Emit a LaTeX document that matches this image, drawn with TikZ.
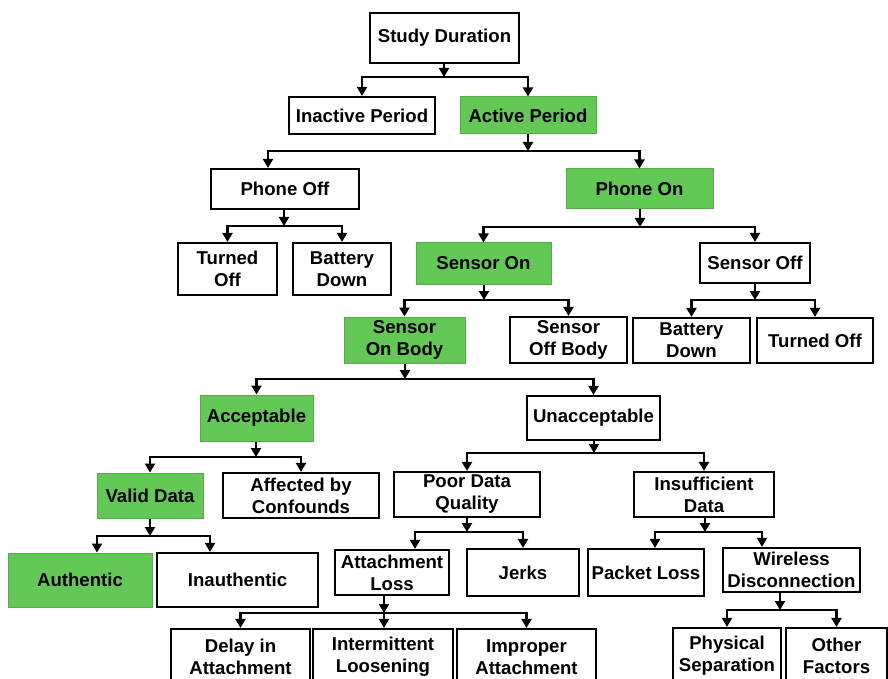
\documentclass[tikz,border=0pt]{standalone}
\usepackage{fontspec}
\setmainfont{Liberation Sans}
\usepackage{tikz}
\usetikzlibrary{arrows.meta,calc}
\definecolor{okgreen}{RGB}{100,200,86}

\begin{document}
\begin{tikzpicture}[x=0.5pt,y=-0.5pt,
    box/.style={rectangle,draw=black,line width=1.1pt,fill=white,align=center,inner sep=1pt,font=\fontsize{9.3}{11}\selectfont\bfseries},
    okbox/.style={box,draw=okgreen!85!black,line width=0.5pt,fill=okgreen},
    link/.style={line width=1.1pt,-{Triangle[length=4.5pt,width=5pt]}}]
    \useasboundingbox (0,0) rectangle (888,679);

    % Top levels
    \node[box,minimum width=74.5pt,minimum height=25pt] (sd) at (444.5,38) {Study Duration};
    \node[box,minimum width=73pt,minimum height=18.5pt] (ip) at (362,115.5) {Inactive Period};
    \node[okbox,minimum width=68pt,minimum height=18.5pt] (ap) at (528,115.5) {Active Period};
    \node[box,minimum width=74pt,minimum height=20pt] (pf) at (285,189) {Phone Off};
    \node[okbox,minimum width=73.5pt,minimum height=20pt] (pn) at (639.5,189) {Phone On};

    % Phone / sensor states
    \node[box,minimum width=49.5pt,minimum height=26pt] (tof) at (227.5,269) {Turned\\Off};
    \node[box,minimum width=49pt,minimum height=26pt] (bdn) at (342,269) {Battery\\Down};
    \node[okbox,minimum width=67.5pt,minimum height=20.5pt] (son) at (483.5,263.5) {Sensor On};
    \node[box,minimum width=55pt,minimum height=20pt] (sof) at (755,263) {Sensor Off};
    \node[okbox,minimum width=60.5pt,minimum height=23pt] (sob) at (404.5,340) {Sensor\\On Body};
    \node[box,minimum width=58.5pt,minimum height=23pt] (sfb) at (568.5,340) {Sensor\\Off Body};
    \node[box,minimum width=58.5pt,minimum height=22.5pt] (sbd) at (691.5,340.5) {Battery\\Down};
    \node[box,minimum width=58pt,minimum height=22.5pt] (sto) at (815,340.5) {Turned Off};

    % Data quality
    \node[okbox,minimum width=56.5pt,minimum height=23pt] (acc) at (256.5,418) {Acceptable};
    \node[box,minimum width=66.5pt,minimum height=22pt] (una) at (593.5,418) {Unacceptable};
    \node[okbox,minimum width=53pt,minimum height=22.5pt] (vd) at (150,495.5) {Valid Data};
    \node[box,minimum width=78pt,minimum height=22.5pt] (abc) at (301,495.5) {Affected by\\Confounds};
    \node[box,minimum width=73pt,minimum height=22.5pt] (pdq) at (467,494.5) {Poor Data\\Quality};
    \node[box,minimum width=70pt,minimum height=22.5pt] (isd) at (704,494.5) {Insufficient\\Data};
    \node[okbox,minimum width=72pt,minimum height=27pt] (aut) at (80,580) {Authentic};
    \node[box,minimum width=80.5pt,minimum height=27pt] (ina) at (237.5,580) {Inauthentic};
    \node[box,minimum width=57pt,minimum height=22.5pt] (atl) at (392,572.5) {Attachment\\Loss};
    \node[box,minimum width=56pt,minimum height=23.5pt] (jrk) at (523,572.5) {Jerks};
    \node[box,minimum width=58pt,minimum height=23.5pt] (pkl) at (646,572.5) {Packet Loss};
    \node[box,minimum width=68.5pt,minimum height=22pt] (wdc) at (791.5,570) {Wireless\\Disconnection};

    % Bottom row
    \node[box,minimum width=69.5pt,minimum height=28pt] (dia) at (240.5,657) {Delay in\\Attachment};
    \node[box,minimum width=70pt,minimum height=28pt] (inl) at (383,657) {Intermittent\\Loosening};
    \node[box,minimum width=69.5pt,minimum height=28pt] (ima) at (526.5,657) {Improper\\Attachment};
    \node[box,minimum width=54pt,minimum height=28pt] (phs) at (727,656) {Physical\\Separation};
    \node[box,minimum width=50.5pt,minimum height=28pt] (oth) at (836.5,656) {Other\\Factors};

    % Junctions
    \coordinate (jsd) at (444,77);
    \coordinate (jap) at (528,151);
    \coordinate (jpf) at (284,226);
    \coordinate (jpn) at (640,227);
    \coordinate (json) at (484,300);
    \coordinate (jsof) at (755,300);
    \coordinate (jsob) at (405,379);
    \coordinate (jacc) at (256,457);
    \coordinate (juna) at (594,453);
    \coordinate (jvd) at (150,536);
    \coordinate (jpdq) at (467,532);
    \coordinate (jisd) at (705,532);
    \coordinate (jatl) at (384,613);
    \coordinate (jwdc) at (780,610);

    % Links
    \draw[link] (sd.south -| jsd) -- (jsd);
    \draw[link] (jsd) -| (ip.north);
    \draw[link] (jsd) -| (ap.north);

    \draw[link] (ap.south -| jap) -- (jap);
    \draw[link] (jap) -| ([xshift=-8.5pt]pf.north);
    \draw[link] (jap) -| (pn.north);

    \draw[link] (pf.south -| jpf) -- (jpf);
    \draw[link] (jpf) -| (tof.north);
    \draw[link] (jpf) -| (bdn.north);

    \draw[link] (pn.south -| jpn) -- (jpn);
    \draw[link] (jpn) -| (son.north);
    \draw[link] (jpn) -| (sof.north);

    \draw[link] (son.south -| json) -- (json);
    \draw[link] (json) -| (sob.north);
    \draw[link] (json) -| (sfb.north);

    \draw[link] (sof.south -| jsof) -- (jsof);
    \draw[link] (jsof) -| (sbd.north);
    \draw[link] (jsof) -| (sto.north);

    \draw[link] (sob.south -| jsob) -- (jsob);
    \draw[link] (jsob) -| (acc.north);
    \draw[link] (jsob) -| (una.north);

    \draw[link] (acc.south -| jacc) -- (jacc);
    \draw[link] (jacc) -| (vd.north);
    \draw[link] (jacc) -| (abc.north);

    \draw[link] (una.south -| juna) -- (juna);
    \draw[link] (juna) -| (pdq.north);
    \draw[link] (juna) -| (isd.north);

    \draw[link] (vd.south -| jvd) -- (jvd);
    \draw[link] (jvd) -| ([xshift=8.5pt]aut.north);
    \draw[link] (jvd) -| ([xshift=-13.75pt]ina.north);

    \draw[link] (pdq.south -| jpdq) -- (jpdq);
    \draw[link] (jpdq) -| ([xshift=11.5pt]atl.north);
    \draw[link] (jpdq) -| (jrk.north);

    \draw[link] (isd.south -| jisd) -- (jisd);
    \draw[link] (jisd) -| ([xshift=4.5pt]pkl.north);
    \draw[link] (jisd) -| ([xshift=-14.75pt]wdc.north);

    \draw[link] (atl.south -| jatl) -- (jatl);
    \draw[link] (jatl) -| (dia.north);
    \draw[link] (jatl) -- (inl.north -| jatl);
    \draw[link] (jatl) -| (ima.north);

    \draw[link] (wdc.south -| jwdc) -- (jwdc);
    \draw[link] (jwdc) -| (phs.north);
    \draw[link] (jwdc) -| (oth.north);
\end{tikzpicture}
\end{document}
